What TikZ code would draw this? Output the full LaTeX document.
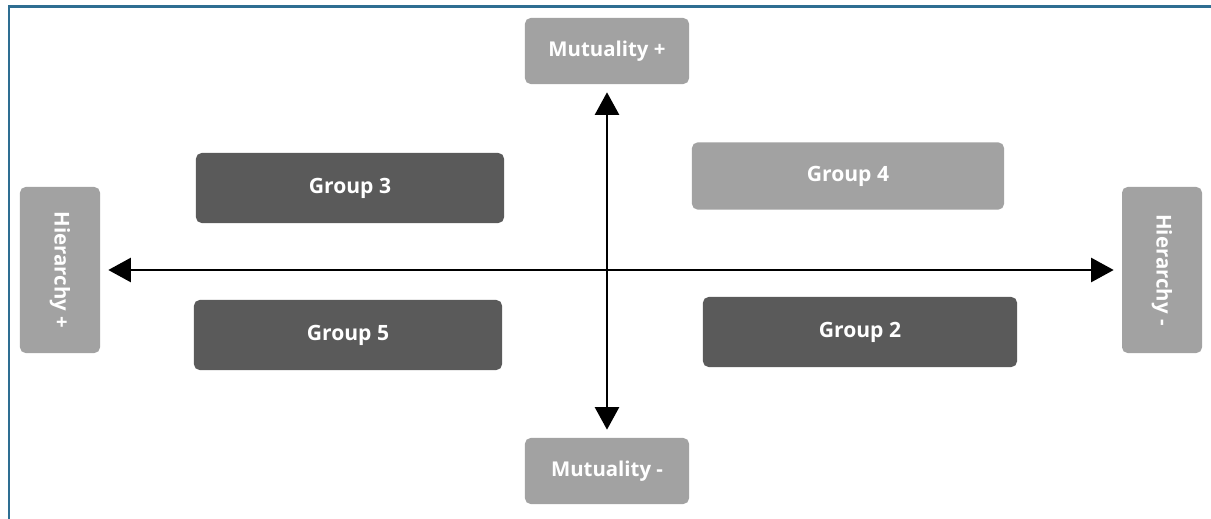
\documentclass[tikz,border=0pt]{standalone}
\usepackage{fontspec}
\setmainfont{Open Sans}
\usetikzlibrary{positioning,arrows.meta}
\definecolor{darkbox}{HTML}{5A5A5A}
\definecolor{lightbox}{HTML}{A2A2A2}
\definecolor{frameblue}{HTML}{2E6E92}

\begin{document}
\begin{tikzpicture}[x=0.025cm, y=-0.025cm,
				group/.style={rectangle, rounded corners=4pt, fill=darkbox, text=white, font=\bfseries\fontsize{15}{17}\selectfont, minimum width=7.7cm, minimum height=1.75cm},
				axis/.style={rectangle, rounded corners=4pt, fill=lightbox, text=white, font=\bfseries\fontsize{14.5}{17}\selectfont, minimum width=4.1cm, minimum height=1.65cm},
				side/.style={axis, rotate=-90, minimum width=4.15cm, minimum height=2cm}
			]
			\useasboundingbox (0,0) rectangle (1211,519);
			% frame on top and left
			\draw[frameblue, line width=2pt] (9,519) -- (9,6.5) -- (1211,6.5);
			\node[axis] (mutplus) at (607,51) {Mutuality +};
			\node[axis] (mutminus) at (607,471) {Mutuality -};
			\node[side] (hierplus) at (60,270) {Hierarchy +};
			\node[side] (hierminus) at (1162,270) {Hierarchy -};
			\node[group] (groupthree) at (350,188) {Group 3};
			\node[group, fill=lightbox, minimum width=7.8cm, minimum height=1.68cm] (groupfour) at (848,176) {Group 4};
			\node[group] (groupfive) at (348,335) {Group 5};
			\node[group, minimum width=7.85cm] (grouptwo) at (860,332) {Group 2};
			\begin{scope}[line width=1.8pt, {Triangle[length=16pt, width=17pt]}-{Triangle[length=16pt, width=17pt]}, shorten <=0.2cm, shorten >=0.2cm]
			\draw (mutplus) -- (mutminus);
			\draw (hierplus) -- (hierminus);
			\end{scope}
			\end{tikzpicture}
\end{document}
